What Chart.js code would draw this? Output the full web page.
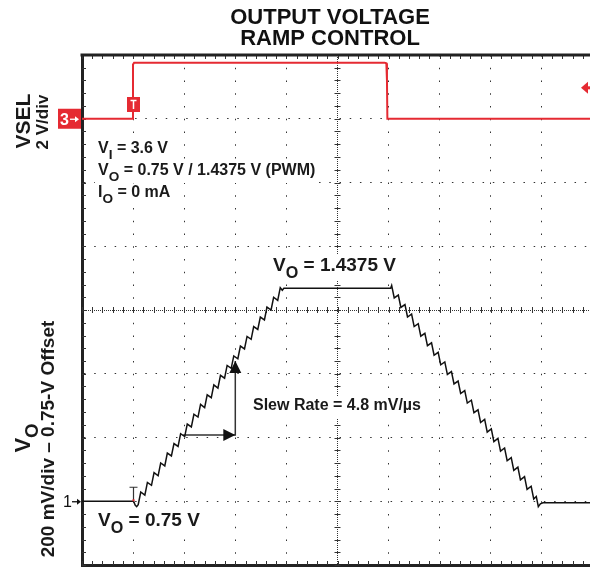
<!DOCTYPE html>
<html>
<head>
<meta charset="utf-8">
<script src="https://cdn.jsdelivr.net/npm/chart.js@4.4.0/dist/chart.umd.min.js"></script>
<style>
  html, body { margin: 0; padding: 0; background: #fff; overflow: hidden; }
  canvas { display: block; }
</style>
</head>
<body>
<canvas id="scopeChart" width="600" height="569"></canvas>
<script>
// scope settings
const TIME_PER_DIV = 50;      // us/div
const VO_PER_DIV = 0.2;       // V/div
const VO_OFFSET = 0.75;       // V at marker 1
const VO_MARKER_DIV = -3;
const VSEL_PER_DIV = 2;       // V/div
const VSEL_MARKER_DIV = 3;
const VSEL_TRIGGER = 0.97;    // V

// channel 3 - VSEL
const vselTime  = [0, 49.6, 49.9, 51, 296, 297.8, 298.4, 298.8, 500];
const vselVolts = [0, 0, 1.7, 1.76, 1.76, 1.74, 1.2, 0, 0];

// channel 1 - VO (PWM steps on the ramps)
const voTime = [
  0, 50.5, 52, 53.5,
  55, 57.5, 61.5, 64, 68, 70.5, 74.5, 77, 81, 83.5, 87.5, 90, 94, 96.5, 100.5, 103,
  107, 109.5, 113.5, 116, 120, 122.5, 126.5, 129, 133, 135.5, 139.5, 142, 146, 148.5,
  152.5, 155, 159, 161.5, 165.5, 168, 172, 174.5, 178.5, 181, 185, 187.5, 191.5, 194,
  196, 197.5, 302,
  303, 305.5, 309.5, 312, 316, 318.5, 322.5, 325, 329, 331.5, 335.5, 338, 342, 344.5,
  348.5, 351, 355, 357.5, 361.5, 364, 368, 370.5, 374.5, 377, 381, 383.5, 387.5, 390,
  394, 396.5, 400.5, 403, 407, 409.5, 413.5, 416, 420, 422.5, 426.5, 429, 433, 435.5,
  439.5, 442, 444.5, 446.5, 448.5, 451, 500
];
const voVolts = [
  0.75, 0.75, 0.738, 0.733,
  0.739, 0.779, 0.769, 0.809, 0.800, 0.840, 0.830, 0.870, 0.861, 0.901, 0.892, 0.931, 0.922, 0.962, 0.953, 0.992,
  0.983, 1.023, 1.014, 1.054, 1.044, 1.084, 1.075, 1.115, 1.105, 1.145, 1.136, 1.176, 1.167, 1.206,
  1.197, 1.237, 1.228, 1.267, 1.258, 1.298, 1.289, 1.328, 1.319, 1.359, 1.350, 1.390, 1.380, 1.420,
  1.412, 1.418, 1.418,
  1.427, 1.388, 1.397, 1.358, 1.367, 1.328, 1.337, 1.298, 1.307, 1.268, 1.277, 1.238, 1.247, 1.208,
  1.217, 1.178, 1.187, 1.148, 1.157, 1.118, 1.127, 1.088, 1.097, 1.058, 1.067, 1.028, 1.037, 0.997,
  1.007, 0.967, 0.977, 0.937, 0.947, 0.907, 0.917, 0.877, 0.887, 0.847, 0.857, 0.817, 0.827, 0.787,
  0.797, 0.757, 0.765, 0.733, 0.742, 0.745, 0.745
];

// slew rate arrows
const slewTime  = [99, 150, 150];
const slewVolts = [0.958, 0.958, 1.19];

const voToDiv = v => (v - VO_OFFSET) / VO_PER_DIV + VO_MARKER_DIV;
const vselToDiv = v => v / VSEL_PER_DIV + VSEL_MARKER_DIV;

const FONT = '"Liberation Sans", Arial, Helvetica, sans-serif';
const SUB = 0.85;

function richWidth(ctx, parts, size) {
  let w = 0;
  parts.forEach(p => {
    ctx.font = 'bold ' + (p[1] ? size * SUB : size) + 'px ' + FONT;
    w += ctx.measureText(p[0]).width;
  });
  return w;
}

function drawRich(ctx, parts, x, y, size, color) {
  ctx.fillStyle = color || '#1a1a1a';
  ctx.textAlign = 'left';
  ctx.textBaseline = 'alphabetic';
  parts.forEach(p => {
    ctx.font = 'bold ' + (p[1] ? size * SUB : size) + 'px ' + FONT;
    ctx.fillText(p[0], x, p[1] ? y + size * 0.36 : y);
    x += ctx.measureText(p[0]).width;
  });
}

function boxedLabel(ctx, parts, x, y, size) {
  const w = richWidth(ctx, parts, size);
  ctx.fillStyle = '#fff';
  ctx.fillRect(x - 3, y - size * 0.85, w + 6, size * 1.35);
  drawRich(ctx, parts, x, y, size);
}

function rotatedLabel(ctx, parts, baseX, cy, size) {
  const w = richWidth(ctx, parts, size);
  ctx.save();
  ctx.translate(baseX, cy);
  ctx.rotate(-Math.PI / 2);
  drawRich(ctx, parts, -w / 2, 0, size);
  ctx.restore();
}

// small right-pointing marker arrow
function markerArrow(ctx, x1, x2, y, color) {
  ctx.strokeStyle = color;
  ctx.fillStyle = color;
  ctx.lineWidth = 1.3;
  ctx.beginPath();
  ctx.moveTo(x1, y); ctx.lineTo(x2 - 3, y);
  ctx.stroke();
  ctx.beginPath();
  ctx.moveTo(x2, y); ctx.lineTo(x2 - 4, y - 3); ctx.lineTo(x2 - 4, y + 3); ctx.closePath();
  ctx.fill();
}

const scopeDecor = {
  id: 'scopeDecor',
  beforeDatasetsDraw(chart) {
    const { ctx, chartArea: a, scales: { x, y } } = chart;
    const cx = x.getPixelForValue(TIME_PER_DIV * 5);
    const cy = y.getPixelForValue(0);
    ctx.save();
    ctx.strokeStyle = '#333';
    ctx.lineWidth = 1;
    ctx.beginPath();
    for (let k = 0; k <= 50; k++) {
      const px = Math.round(x.getPixelForValue(k * TIME_PER_DIV / 5)) + 0.5;
      ctx.moveTo(px, a.top); ctx.lineTo(px, a.top + 4);
      ctx.moveTo(px, a.bottom - 4); ctx.lineTo(px, a.bottom);
      ctx.moveTo(px, cy - 3); ctx.lineTo(px, cy + 3);
    }
    for (let k = 0; k <= 40; k++) {
      const py = Math.round(y.getPixelForValue(-4 + k * 0.2)) + 0.5;
      ctx.moveTo(a.left, py); ctx.lineTo(a.left + 4, py);
      ctx.moveTo(cx - 3, py); ctx.lineTo(cx + 3, py);
    }
    ctx.stroke();

    // labels inside the graticule
    boxedLabel(ctx, [['V'], ['I', true], [' = 3.6 V']], 98, 153, 16);
    boxedLabel(ctx, [['V'], ['O', true], [' = 0.75 V / 1.4375 V (PWM)']], 98, 175, 16);
    boxedLabel(ctx, [['I'], ['O', true], [' = 0 mA']], 98, 197, 16);
    boxedLabel(ctx, [['V'], ['O', true], [' = 1.4375 V']], 273, 271, 19);
    boxedLabel(ctx, [['Slew Rate = 4.8 mV/\u00b5s']], 253, 410, 16);
    boxedLabel(ctx, [['V'], ['O', true], [' = 0.75 V']], 98, 526, 19);
    ctx.restore();
  },
  afterDatasetsDraw(chart) {
    const { ctx, chartArea: a, scales: { x, y } } = chart;
    ctx.save();
    // arrow heads for the slew rate construction
    const hx = x.getPixelForValue(slewTime[1]);
    const hy = y.getPixelForValue(voToDiv(slewVolts[1]));
    const vy = y.getPixelForValue(voToDiv(slewVolts[2]));
    ctx.fillStyle = '#111';
    ctx.beginPath();
    ctx.moveTo(hx, hy); ctx.lineTo(hx - 12, hy - 6); ctx.lineTo(hx - 12, hy + 6); ctx.closePath();
    ctx.fill();
    ctx.beginPath();
    ctx.moveTo(hx, vy); ctx.lineTo(hx - 6, vy + 12); ctx.lineTo(hx + 6, vy + 12); ctx.closePath();
    ctx.fill();

    // trigger markers
    const tx = Math.round(x.getPixelForValue(vselTime[1])) + 0.5;
    ctx.fillStyle = '#e52a32';
    ctx.fillRect(tx - 6.5, 97, 13, 15);
    ctx.strokeStyle = '#fff';
    ctx.lineWidth = 1.5;
    ctx.beginPath();
    ctx.moveTo(tx - 3, 100.5); ctx.lineTo(tx + 3, 100.5);
    ctx.moveTo(tx, 100.5); ctx.lineTo(tx, 109);
    ctx.stroke();

    const by = y.getPixelForValue(voToDiv(VO_OFFSET));
    ctx.strokeStyle = '#333';
    ctx.lineWidth = 1.2;
    ctx.beginPath();
    ctx.moveTo(tx - 4, by - 14); ctx.lineTo(tx + 4, by - 14);
    ctx.moveTo(tx, by - 14); ctx.lineTo(tx, by);
    ctx.stroke();
    ctx.fillStyle = '#e52a32';
    ctx.fillRect(tx - 1, by - 2, 2, 2);

    // trigger level arrow, right edge
    const ly = y.getPixelForValue(vselToDiv(VSEL_TRIGGER));
    ctx.fillStyle = '#e52a32';
    ctx.beginPath();
    ctx.moveTo(a.right - 12, ly); ctx.lineTo(a.right - 5, ly - 6); ctx.lineTo(a.right - 5, ly + 6); ctx.closePath();
    ctx.fill();
    ctx.fillRect(a.right - 6, ly - 1.5, 6, 3);
    ctx.restore();
  },
  afterDraw(chart) {
    const { ctx, chartArea: a, scales: { y } } = chart;
    ctx.save();
    // top frame line
    ctx.strokeStyle = '#222';
    ctx.lineWidth = 3;
    ctx.beginPath();
    ctx.moveTo(a.left - 1.5, a.top); ctx.lineTo(chart.width, a.top);
    ctx.stroke();

    // title
    ctx.fillStyle = '#111';
    ctx.font = 'bold 22px ' + FONT;
    ctx.textAlign = 'center';
    ctx.fillText('OUTPUT VOLTAGE', 330, 24);
    ctx.fillText('RAMP CONTROL', 330, 45);

    // channel markers
    const m3 = y.getPixelForValue(VSEL_MARKER_DIV);
    ctx.fillStyle = '#e52a32';
    ctx.fillRect(58, m3 - 10, 23, 20);
    ctx.fillStyle = '#fff';
    ctx.font = 'bold 16px ' + FONT;
    ctx.textAlign = 'left';
    ctx.fillText('3', 60, m3 + 6);
    markerArrow(ctx, 70, 79, m3 + 0.5, '#fff');
    const m1 = y.getPixelForValue(VO_MARKER_DIV);
    ctx.fillStyle = '#111';
    ctx.font = '16px ' + FONT;
    ctx.fillText('1', 63, m1 + 6);
    markerArrow(ctx, 72, 81, m1 + 0.5, '#111');

    // channel labels
    rotatedLabel(ctx, [['VSEL']], 30, 121, 21);
    rotatedLabel(ctx, [['2 V/div']], 48, 122, 17);
    rotatedLabel(ctx, [['V'], ['O', true]], 30, 438, 22);
    rotatedLabel(ctx, [['200 mV/div \u2013 0.75-V Offset']], 54, 439, 19);
    ctx.restore();
  }
};

const ctx = document.getElementById('scopeChart');

new Chart(ctx, {
  type: 'line',
  data: {
    datasets: [{
      label: 'VSEL',
      data: vselTime.map((t, i) => ({ x: t, y: vselToDiv(vselVolts[i]) })),
      borderColor: '#e52a32',
      borderWidth: 2,
      pointRadius: 0,
      tension: 0
    }, {
      label: 'VO',
      data: voTime.map((t, i) => ({ x: t, y: voToDiv(voVolts[i]) })),
      borderColor: '#111111',
      borderWidth: 1.5,
      pointRadius: 0,
      tension: 0
    }, {
      label: 'Slew',
      data: slewTime.map((t, i) => ({ x: t, y: voToDiv(slewVolts[i]) })),
      borderColor: '#333333',
      borderWidth: 1.5,
      pointRadius: 0,
      tension: 0
    }]
  },
  options: {
    responsive: false,
    animation: false,
    events: [],
    layout: {
      autoPadding: false,
      padding: { left: 82, top: 55, right: 7, bottom: 4 }
    },
    plugins: {
      legend: { display: false },
      tooltip: { enabled: false }
    },
    scales: {
      x: {
        type: 'linear',
        min: 0,
        max: TIME_PER_DIV * 10,
        ticks: { display: false, stepSize: TIME_PER_DIV },
        grid: { color: '#333', lineWidth: 1, drawTicks: false },
        border: {
          display: true,
          width: 3,
          color: '#222',
          dash: function(context) {
            if (context.tick && context.tick.value === TIME_PER_DIV * 5) {
              return [1, 1];
            } else {
              return [1.5, 11.25];
            }
          }
        }
      },
      y: {
        min: -4,
        max: 4,
        ticks: { display: false, stepSize: 1 },
        grid: { color: '#333', lineWidth: 1, drawTicks: false },
        border: {
          display: true,
          width: 3,
          color: '#222',
          dash: function(context) {
            if (context.tick && context.tick.value === 0) {
              return [1, 1];
            } else {
              return [1.5, 8.72];
            }
          }
        }
      }
    }
  },
  plugins: [scopeDecor]
});
</script>
</body>
</html>
